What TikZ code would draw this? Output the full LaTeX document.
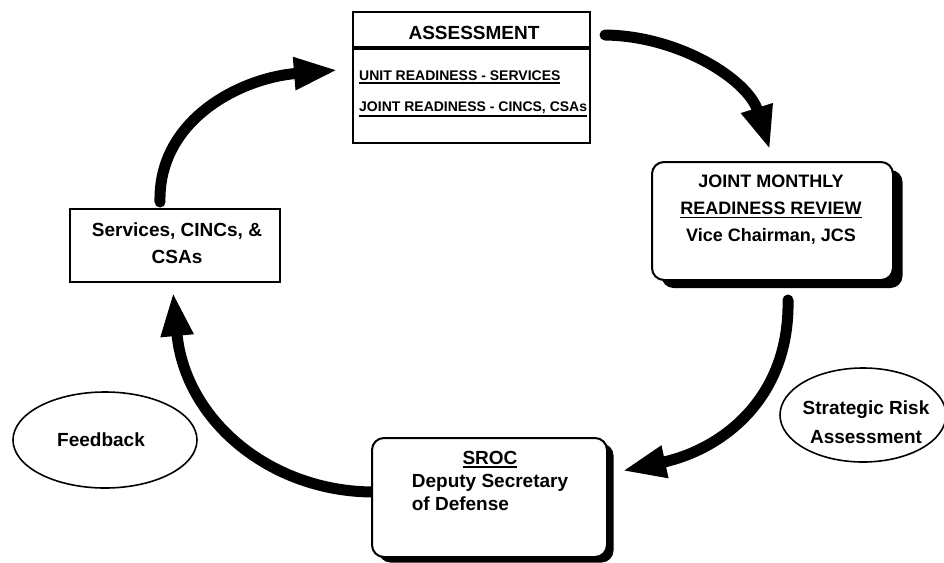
\documentclass[tikz,border=0pt]{standalone}
\usepackage{fontspec}
\setmainfont{Liberation Sans}
\usetikzlibrary{arrows.meta,shapes.geometric}
\newcommand\ulx[1]{\vtop{\hbox{#1}\kern1.5pt\hrule height1.6pt}}
\begin{document}
\begin{tikzpicture}[x=1pt,y=-1pt,
  plainbox/.style={draw, fill=white, line width=1.6pt, inner sep=0pt},
  roundbox/.style={draw, fill=white, line width=2pt, rounded corners=12pt, inner sep=0pt},
  shadowbox/.style={fill=black, rounded corners=12pt, inner sep=0pt},
  oval/.style={draw, ellipse, line width=1.6pt, inner sep=0pt},
  txt/.style={font=\bfseries, inner sep=0pt},
  flow/.style={line width=11pt, line cap=round, -{Triangle[length=44pt,width=30pt]}},
]
\useasboundingbox (0,0) rectangle (944,562);
% connector ends
\coordinate (a1s) at (605,35);
\coordinate (a1e) at (770,150);
\coordinate (a2s) at (160,202);
\coordinate (a2e) at (338,70);
\coordinate (a3s) at (788,300);
\coordinate (a3e) at (622,471);
\coordinate (a4s) at (374,492);
\coordinate (a4e) at (173,292);
% connectors
\draw[flow] (a1s) .. controls (680,36) and (748,80) .. (a1e);
\draw[flow] (a2s) .. controls (158,120) and (240,78) .. (a2e);
\draw[flow] (a3s) .. controls (790,400) and (720,450) .. (a3e);
\draw[flow] (a4s) .. controls (270,492) and (185,420) .. (a4e);
% assessment
\node[plainbox, minimum width=237pt, minimum height=131pt] (assess) at (471.5,77.5) {};
\draw[line width=4.5pt] (assess.west |- 0,48) -- (assess.east |- 0,48);
\node[txt, font=\bfseries\fontsize{19}{22}\selectfont] (assesst) at (474,33) {ASSESSMENT};
\node[txt, anchor=west, font=\bfseries\fontsize{14}{16}\selectfont] (unit) at (359,77) {\ulx{UNIT READINESS - SERVICES}};
\node[txt, anchor=west, font=\bfseries\fontsize{14}{16}\selectfont] (joint) at (359,109) {\ulx{JOINT READINESS - CINCS, CSAs}};
% JMRR
\node[shadowbox, minimum width=241pt, minimum height=118pt] (jmrrsh) at (782,229) {};
\node[roundbox, minimum width=241pt, minimum height=118pt] (jmrr) at (772.5,221) {};
\node[txt, align=center, font=\bfseries\fontsize{18}{27}\selectfont] (jmrrt) at (771,210) {JOINT MONTHLY\\\ulx{READINESS REVIEW}\\Vice Chairman, JCS};
% SROC
\node[shadowbox, minimum width=235pt, minimum height=119pt] (srocsh) at (496,503) {};
\node[roundbox, minimum width=235pt, minimum height=119pt] (sroc) at (489.5,497.5) {};
\node[txt, font=\bfseries\fontsize{19}{23}\selectfont] (sroct) at (490,483) {\begin{tabular}{@{}l@{}}\multicolumn{1}{@{}c@{}}{\ulx{SROC}}\\Deputy Secretary\\of Defense\end{tabular}};
% Services
\node[plainbox, minimum width=210pt, minimum height=73pt] (svc) at (175,245.5) {};
\node[txt, align=center, font=\bfseries\fontsize{19}{27}\selectfont] (svct) at (177,243.5) {Services, CINCs, \&\\CSAs};
% ovals
\node[oval, minimum width=184pt, minimum height=96pt] (fb) at (105,440) {};
\node[txt, font=\bfseries\fontsize{19}{22}\selectfont] (fbt) at (101,440) {Feedback};
\node[oval, minimum width=166pt, minimum height=94pt] (sra) at (863,415) {};
\node[txt, align=center, font=\bfseries\fontsize{19}{29}\selectfont] (srat) at (866,422) {Strategic Risk\\Assessment};
\end{tikzpicture}
\end{document}
